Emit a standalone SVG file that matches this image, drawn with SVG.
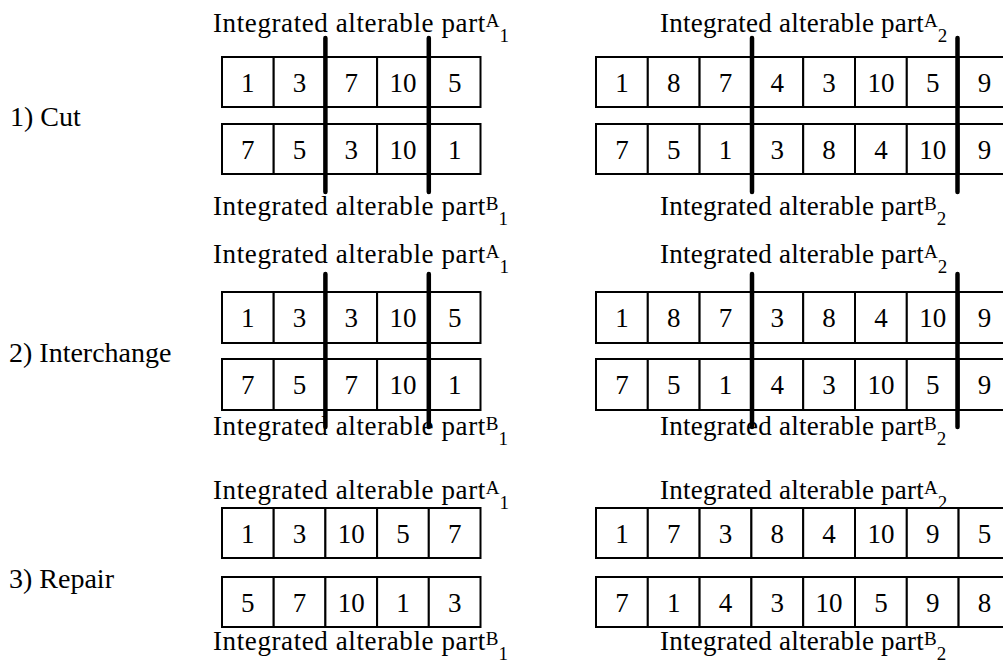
<svg xmlns="http://www.w3.org/2000/svg" width="1003" height="666" viewBox="0 0 1003 666">
<style>
  text { font-family: 'Liberation Serif', 'Times New Roman', Times, serif; fill: #000; }
  .lbl { font-size: 27px; }
  .lbl-l { letter-spacing: 0.6px; }
  .lbl-r { letter-spacing: 0.25px; }
  .ss { font-size: 19px; letter-spacing: 0; }
  .step { font-size: 28px; }
  .num { font-size: 27px; text-anchor: middle; }
  .cell { fill: #fff; stroke: #000; stroke-width: 2; }
  .cut { stroke: #000; stroke-width: 4.5; stroke-linecap: round; fill: none; }
</style>
<rect width="1003" height="666" fill="#fff"/>

<!-- Step labels -->
<g id="step-labels">
  <text class="step" x="10" y="126">1) Cut</text>
  <text class="step" x="9" y="362">2) Interchange</text>
  <text class="step" x="9" y="588">3) Repair</text>
</g>

<!-- Part labels -->
<g id="part-labels">
  <text class="lbl lbl-l" x="213" y="32">Integrated alterable part<tspan class="ss" dy="-5">A</tspan><tspan class="ss" dy="15">1</tspan></text>
  <text class="lbl lbl-r" x="660" y="32">Integrated alterable part<tspan class="ss" dy="-5">A</tspan><tspan class="ss" dy="15">2</tspan></text>
  <text class="lbl lbl-l" x="213" y="215">Integrated alterable part<tspan class="ss" dy="-5">B</tspan><tspan class="ss" dy="15">1</tspan></text>
  <text class="lbl lbl-r" x="660" y="215">Integrated alterable part<tspan class="ss" dy="-5">B</tspan><tspan class="ss" dy="15">2</tspan></text>

  <text class="lbl lbl-l" x="213" y="263">Integrated alterable part<tspan class="ss" dy="-5">A</tspan><tspan class="ss" dy="15">1</tspan></text>
  <text class="lbl lbl-r" x="660" y="263">Integrated alterable part<tspan class="ss" dy="-5">A</tspan><tspan class="ss" dy="15">2</tspan></text>
  <text class="lbl lbl-l" x="213" y="435">Integrated alterable part<tspan class="ss" dy="-5">B</tspan><tspan class="ss" dy="15">1</tspan></text>
  <text class="lbl lbl-r" x="660" y="435">Integrated alterable part<tspan class="ss" dy="-5">B</tspan><tspan class="ss" dy="15">2</tspan></text>

  <text class="lbl lbl-l" x="213" y="499">Integrated alterable part<tspan class="ss" dy="-5">A</tspan><tspan class="ss" dy="15">1</tspan></text>
  <text class="lbl lbl-r" x="660" y="499">Integrated alterable part<tspan class="ss" dy="-5">A</tspan><tspan class="ss" dy="15">2</tspan></text>
  <text class="lbl lbl-l" x="213" y="650">Integrated alterable part<tspan class="ss" dy="-5">B</tspan><tspan class="ss" dy="15">1</tspan></text>
  <text class="lbl lbl-r" x="660" y="650">Integrated alterable part<tspan class="ss" dy="-5">B</tspan><tspan class="ss" dy="15">2</tspan></text>
</g>

<!-- Step 1: Cut -->
<g id="cut-left-A" transform="translate(222,57)">
  <rect class="cell" x="0" y="0" width="51.7" height="50"/><rect class="cell" x="51.7" y="0" width="51.7" height="50"/><rect class="cell" x="103.4" y="0" width="51.7" height="50"/><rect class="cell" x="155.1" y="0" width="51.7" height="50"/><rect class="cell" x="206.8" y="0" width="51.7" height="50"/>
  <text class="num" x="25.85" y="35">1</text><text class="num" x="77.55" y="35">3</text><text class="num" x="129.25" y="35">7</text><text class="num" x="180.95" y="35">10</text><text class="num" x="232.65" y="35">5</text>
</g>
<g id="cut-left-B" transform="translate(222,124)">
  <rect class="cell" x="0" y="0" width="51.7" height="50"/><rect class="cell" x="51.7" y="0" width="51.7" height="50"/><rect class="cell" x="103.4" y="0" width="51.7" height="50"/><rect class="cell" x="155.1" y="0" width="51.7" height="50"/><rect class="cell" x="206.8" y="0" width="51.7" height="50"/>
  <text class="num" x="25.85" y="35">7</text><text class="num" x="77.55" y="35">5</text><text class="num" x="129.25" y="35">3</text><text class="num" x="180.95" y="35">10</text><text class="num" x="232.65" y="35">1</text>
</g>
<g id="cut-right-A" transform="translate(596,57)">
  <rect class="cell" x="0" y="0" width="51.8" height="50"/><rect class="cell" x="51.8" y="0" width="51.8" height="50"/><rect class="cell" x="103.6" y="0" width="51.8" height="50"/><rect class="cell" x="155.4" y="0" width="51.8" height="50"/><rect class="cell" x="207.2" y="0" width="51.8" height="50"/><rect class="cell" x="259" y="0" width="51.8" height="50"/><rect class="cell" x="310.8" y="0" width="51.8" height="50"/><rect class="cell" x="362.6" y="0" width="51.8" height="50"/>
  <text class="num" x="25.9" y="35">1</text><text class="num" x="77.7" y="35">8</text><text class="num" x="129.5" y="35">7</text><text class="num" x="181.3" y="35">4</text><text class="num" x="233.1" y="35">3</text><text class="num" x="284.9" y="35">10</text><text class="num" x="336.7" y="35">5</text><text class="num" x="388.5" y="35">9</text>
</g>
<g id="cut-right-B" transform="translate(596,124)">
  <rect class="cell" x="0" y="0" width="51.8" height="50"/><rect class="cell" x="51.8" y="0" width="51.8" height="50"/><rect class="cell" x="103.6" y="0" width="51.8" height="50"/><rect class="cell" x="155.4" y="0" width="51.8" height="50"/><rect class="cell" x="207.2" y="0" width="51.8" height="50"/><rect class="cell" x="259" y="0" width="51.8" height="50"/><rect class="cell" x="310.8" y="0" width="51.8" height="50"/><rect class="cell" x="362.6" y="0" width="51.8" height="50"/>
  <text class="num" x="25.9" y="35">7</text><text class="num" x="77.7" y="35">5</text><text class="num" x="129.5" y="35">1</text><text class="num" x="181.3" y="35">3</text><text class="num" x="233.1" y="35">8</text><text class="num" x="284.9" y="35">4</text><text class="num" x="336.7" y="35">10</text><text class="num" x="388.5" y="35">9</text>
</g>

<!-- Step 2: Interchange -->
<g id="swap-left-A" transform="translate(222,292)">
  <rect class="cell" x="0" y="0" width="51.7" height="51"/><rect class="cell" x="51.7" y="0" width="51.7" height="51"/><rect class="cell" x="103.4" y="0" width="51.7" height="51"/><rect class="cell" x="155.1" y="0" width="51.7" height="51"/><rect class="cell" x="206.8" y="0" width="51.7" height="51"/>
  <text class="num" x="25.85" y="35">1</text><text class="num" x="77.55" y="35">3</text><text class="num" x="129.25" y="35">3</text><text class="num" x="180.95" y="35">10</text><text class="num" x="232.65" y="35">5</text>
</g>
<g id="swap-left-B" transform="translate(222,359)">
  <rect class="cell" x="0" y="0" width="51.7" height="51"/><rect class="cell" x="51.7" y="0" width="51.7" height="51"/><rect class="cell" x="103.4" y="0" width="51.7" height="51"/><rect class="cell" x="155.1" y="0" width="51.7" height="51"/><rect class="cell" x="206.8" y="0" width="51.7" height="51"/>
  <text class="num" x="25.85" y="35">7</text><text class="num" x="77.55" y="35">5</text><text class="num" x="129.25" y="35">7</text><text class="num" x="180.95" y="35">10</text><text class="num" x="232.65" y="35">1</text>
</g>
<g id="swap-right-A" transform="translate(596,292)">
  <rect class="cell" x="0" y="0" width="51.8" height="51"/><rect class="cell" x="51.8" y="0" width="51.8" height="51"/><rect class="cell" x="103.6" y="0" width="51.8" height="51"/><rect class="cell" x="155.4" y="0" width="51.8" height="51"/><rect class="cell" x="207.2" y="0" width="51.8" height="51"/><rect class="cell" x="259" y="0" width="51.8" height="51"/><rect class="cell" x="310.8" y="0" width="51.8" height="51"/><rect class="cell" x="362.6" y="0" width="51.8" height="51"/>
  <text class="num" x="25.9" y="35">1</text><text class="num" x="77.7" y="35">8</text><text class="num" x="129.5" y="35">7</text><text class="num" x="181.3" y="35">3</text><text class="num" x="233.1" y="35">8</text><text class="num" x="284.9" y="35">4</text><text class="num" x="336.7" y="35">10</text><text class="num" x="388.5" y="35">9</text>
</g>
<g id="swap-right-B" transform="translate(596,359)">
  <rect class="cell" x="0" y="0" width="51.8" height="51"/><rect class="cell" x="51.8" y="0" width="51.8" height="51"/><rect class="cell" x="103.6" y="0" width="51.8" height="51"/><rect class="cell" x="155.4" y="0" width="51.8" height="51"/><rect class="cell" x="207.2" y="0" width="51.8" height="51"/><rect class="cell" x="259" y="0" width="51.8" height="51"/><rect class="cell" x="310.8" y="0" width="51.8" height="51"/><rect class="cell" x="362.6" y="0" width="51.8" height="51"/>
  <text class="num" x="25.9" y="35">7</text><text class="num" x="77.7" y="35">5</text><text class="num" x="129.5" y="35">1</text><text class="num" x="181.3" y="35">4</text><text class="num" x="233.1" y="35">3</text><text class="num" x="284.9" y="35">10</text><text class="num" x="336.7" y="35">5</text><text class="num" x="388.5" y="35">9</text>
</g>

<!-- Step 3: Repair -->
<g id="repair-left-A" transform="translate(222,508)">
  <rect class="cell" x="0" y="0" width="51.7" height="50"/><rect class="cell" x="51.7" y="0" width="51.7" height="50"/><rect class="cell" x="103.4" y="0" width="51.7" height="50"/><rect class="cell" x="155.1" y="0" width="51.7" height="50"/><rect class="cell" x="206.8" y="0" width="51.7" height="50"/>
  <text class="num" x="25.85" y="35">1</text><text class="num" x="77.55" y="35">3</text><text class="num" x="129.25" y="35">10</text><text class="num" x="180.95" y="35">5</text><text class="num" x="232.65" y="35">7</text>
</g>
<g id="repair-left-B" transform="translate(222,577)">
  <rect class="cell" x="0" y="0" width="51.7" height="50"/><rect class="cell" x="51.7" y="0" width="51.7" height="50"/><rect class="cell" x="103.4" y="0" width="51.7" height="50"/><rect class="cell" x="155.1" y="0" width="51.7" height="50"/><rect class="cell" x="206.8" y="0" width="51.7" height="50"/>
  <text class="num" x="25.85" y="35">5</text><text class="num" x="77.55" y="35">7</text><text class="num" x="129.25" y="35">10</text><text class="num" x="180.95" y="35">1</text><text class="num" x="232.65" y="35">3</text>
</g>
<g id="repair-right-A" transform="translate(596,508)">
  <rect class="cell" x="0" y="0" width="51.8" height="50"/><rect class="cell" x="51.8" y="0" width="51.8" height="50"/><rect class="cell" x="103.6" y="0" width="51.8" height="50"/><rect class="cell" x="155.4" y="0" width="51.8" height="50"/><rect class="cell" x="207.2" y="0" width="51.8" height="50"/><rect class="cell" x="259" y="0" width="51.8" height="50"/><rect class="cell" x="310.8" y="0" width="51.8" height="50"/><rect class="cell" x="362.6" y="0" width="51.8" height="50"/>
  <text class="num" x="25.9" y="35">1</text><text class="num" x="77.7" y="35">7</text><text class="num" x="129.5" y="35">3</text><text class="num" x="181.3" y="35">8</text><text class="num" x="233.1" y="35">4</text><text class="num" x="284.9" y="35">10</text><text class="num" x="336.7" y="35">9</text><text class="num" x="388.5" y="35">5</text>
</g>
<g id="repair-right-B" transform="translate(596,577)">
  <rect class="cell" x="0" y="0" width="51.8" height="50"/><rect class="cell" x="51.8" y="0" width="51.8" height="50"/><rect class="cell" x="103.6" y="0" width="51.8" height="50"/><rect class="cell" x="155.4" y="0" width="51.8" height="50"/><rect class="cell" x="207.2" y="0" width="51.8" height="50"/><rect class="cell" x="259" y="0" width="51.8" height="50"/><rect class="cell" x="310.8" y="0" width="51.8" height="50"/><rect class="cell" x="362.6" y="0" width="51.8" height="50"/>
  <text class="num" x="25.9" y="35">7</text><text class="num" x="77.7" y="35">1</text><text class="num" x="129.5" y="35">4</text><text class="num" x="181.3" y="35">3</text><text class="num" x="233.1" y="35">10</text><text class="num" x="284.9" y="35">5</text><text class="num" x="336.7" y="35">9</text><text class="num" x="388.5" y="35">8</text>
</g>

<!-- Cut lines -->
<g id="cut-lines">
  <line class="cut" x1="325.4" y1="38" x2="325.4" y2="192"/>
  <line class="cut" x1="428.8" y1="38" x2="428.8" y2="192"/>
  <line class="cut" x1="752" y1="38" x2="752" y2="192"/>
  <line class="cut" x1="957.5" y1="38" x2="957.5" y2="192"/>
  <line class="cut" x1="325.4" y1="274" x2="325.4" y2="427"/>
  <line class="cut" x1="428.8" y1="274" x2="428.8" y2="427"/>
  <line class="cut" x1="752" y1="274" x2="752" y2="427"/>
  <line class="cut" x1="957.5" y1="274" x2="957.5" y2="427"/>
</g>
</svg>
